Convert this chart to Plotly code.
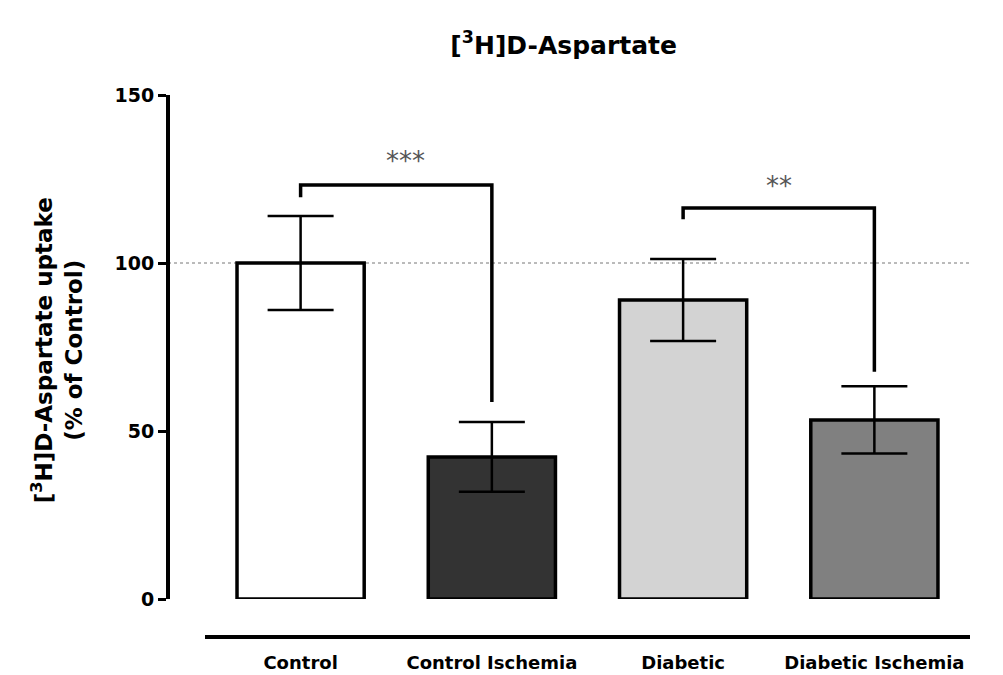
import plotly.graph_objects as go

categories = ["Control", "Control Ischemia", "Diabetic", "Diabetic Ischemia"]
values = [100, 42.3, 89, 53.3]
errors = [14, 10.4, 12.2, 10]
bar_colors = ["#ffffff", "#333333", "#d3d3d3", "#808080"]
y_ticks = [0, 50, 100, 150]

# significance brackets (from group, to group, bracket height, left foot, right foot, label)
sig_pairs = [(0, 1, 123.2, 119.6, 58.6, "***"), (2, 3, 116.4, 113.0, 67.6, "**")]
sig_label_y = [130.5, 123]
sig_label_x = [0.55, 2.5]

FONT = "DejaVu Sans"

fig = go.Figure()
fig.add_trace(go.Bar(
    x=list(range(len(categories))), y=values, width=0.665,
    marker=dict(color=bar_colors, line=dict(color="black", width=3.5)),
    error_y=dict(type="data", array=errors, visible=True, color="black",
                 thickness=2.5, width=33),
    showlegend=False, hoverinfo="skip",
))

for (a, b, h, fa, fb, lab), ly, lx in zip(sig_pairs, sig_label_y, sig_label_x):
    fig.add_trace(go.Scatter(
        x=[a, a, b, b], y=[fa, h, h, fb], mode="lines",
        line=dict(color="black", width=3.5), showlegend=False, hoverinfo="skip",
    ))
    fig.add_annotation(x=lx, y=ly, text=lab, showarrow=False,
                       font=dict(family=FONT, size=26, color="#555555"),
                       xref="x", yref="y", yanchor="middle")

# dotted reference line at 100 %
fig.add_shape(type="line", xref="paper", yref="y", x0=0, x1=1, y0=100, y1=100,
              line=dict(color="#777777", width=1, dash="dot"), layer="below")

fig.add_annotation(
    text="<b>[<sup>3</sup>H]D-Aspartate uptake<br>(% of Control)</b>",
    xref="paper", yref="paper", x=-0.138, y=0.5295, textangle=-90,
    showarrow=False, font=dict(family=FONT, size=23, color="black"),
    xanchor="center", yanchor="middle",
)

fig.update_layout(
    width=1003, height=675,
    margin=dict(l=168, r=33, t=95, b=38),
    paper_bgcolor="white", plot_bgcolor="white",
    title=dict(text="<b>[<sup>3</sup>H]D-Aspartate</b>", xref="container", yref="container",
               x=0.562, y=0.933, xanchor="center", yanchor="middle",
               font=dict(family=FONT, size=25, color="black")),
    xaxis=dict(domain=[0.0461, 1], range=[-0.5, 3.5], anchor="free", position=0,
               tickmode="array", tickvals=list(range(len(categories))),
               ticktext=["<b>%s</b>" % c for c in categories],
               showline=True, linecolor="black", linewidth=4, ticks="",
               ticklabelstandoff=8, automargin=False,
               showgrid=False, zeroline=False,
               tickfont=dict(family=FONT, size=18, color="black")),
    yaxis=dict(domain=[0.0701, 1], range=[0, 150], anchor="free", position=0,
               tickmode="array", tickvals=y_ticks,
               ticktext=["<b>%d</b>" % t for t in y_ticks],
               showline=True, linecolor="black", linewidth=4,
               ticks="outside", ticklen=8, tickwidth=3, tickcolor="black",
               automargin=False,
               showgrid=False, zeroline=False,
               tickfont=dict(family=FONT, size=19, color="black")),
    bargap=0.3,
)

fig.write_html("out.html")
